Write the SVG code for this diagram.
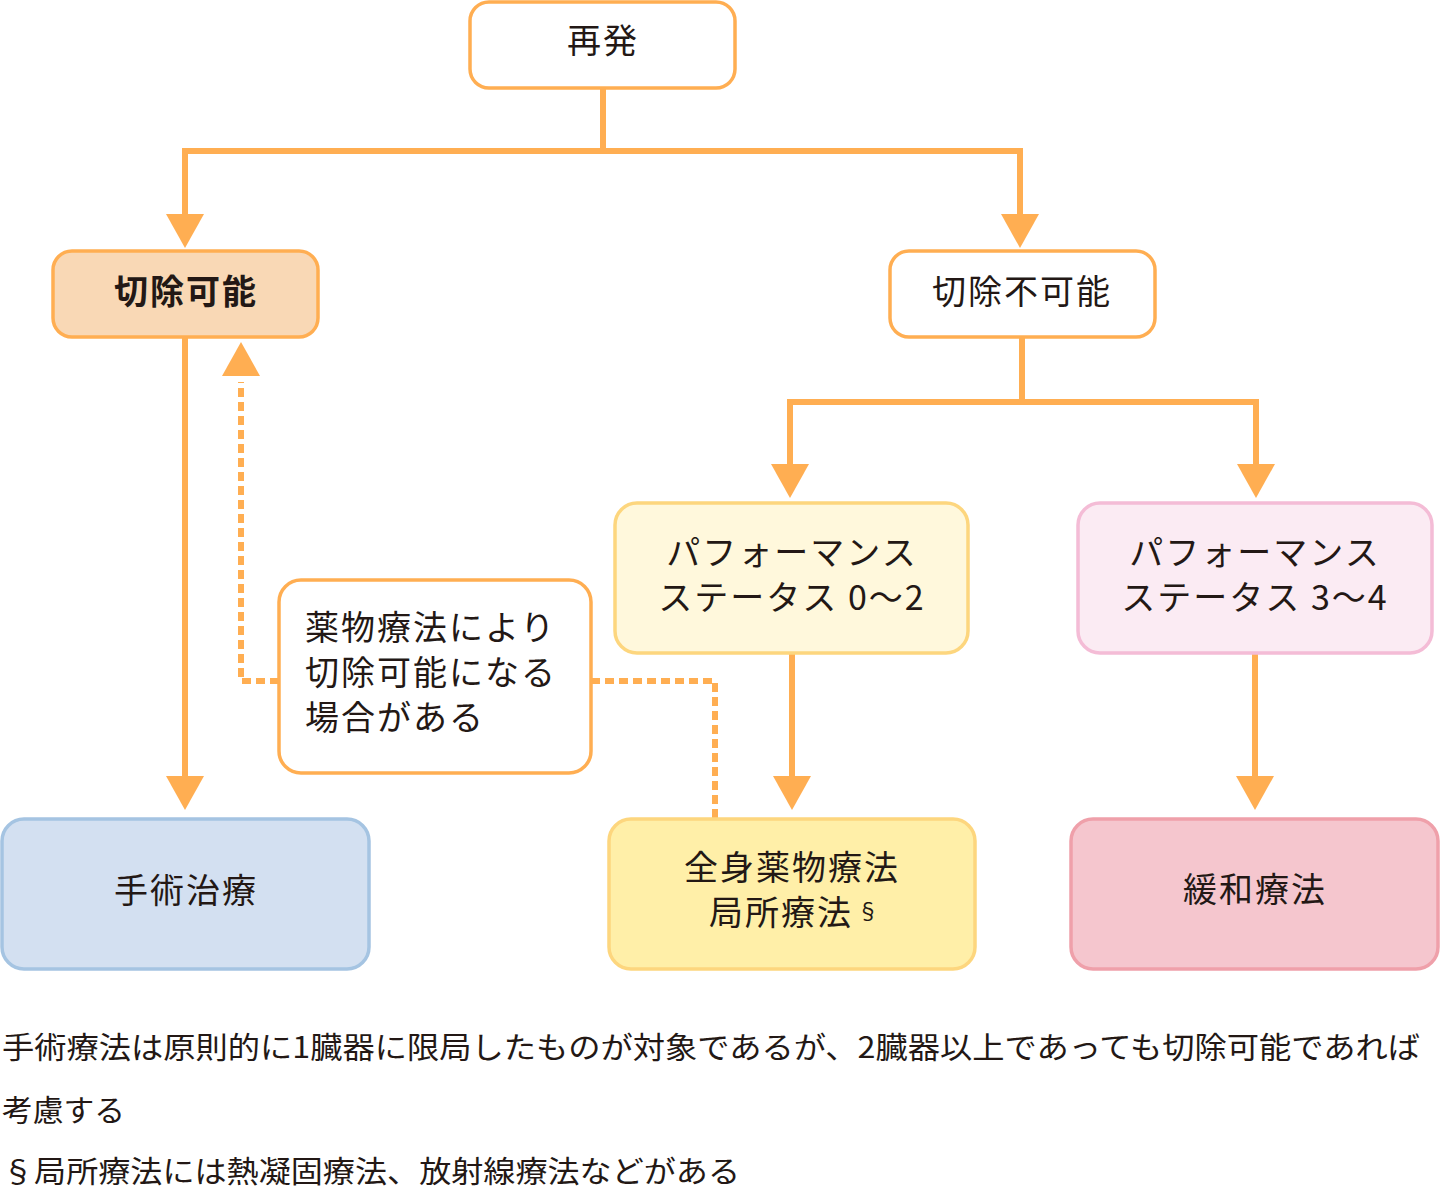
<svg xmlns="http://www.w3.org/2000/svg" width="1440" height="1190" viewBox="0 0 1440 1190">
<defs>
<style>
.t{font-family:"Noto Sans CJK JP","Noto Sans",sans-serif;fill:#231815;font-size:34px;letter-spacing:2px}
.c{text-anchor:middle}
.b{font-weight:bold}
.f{font-family:"Noto Sans CJK JP","Noto Sans",sans-serif;fill:#231815;font-size:30px}
.box{stroke-width:3.5}
.conn{fill:none;stroke:#FFAE52;stroke-width:6;stroke-linejoin:miter}
.dash{stroke-dasharray:9 5}
</style>
<marker id="arr" markerUnits="userSpaceOnUse" viewBox="0 0 34 38" markerWidth="34" markerHeight="38" refX="28" refY="19" orient="auto">
<path d="M0,0 L34,19 L0,38 Z" fill="#FFAE52"/>
</marker>
</defs>
<rect width="1440" height="1190" fill="#FFFFFF"/>

<g id="connectors">
<path class="conn" d="M603,88 V151"/>
<path class="conn" d="M603,151 H185 V242" marker-end="url(#arr)"/>
<path class="conn" d="M603,151 H1020 V242" marker-end="url(#arr)"/>
<path class="conn" d="M1022,337 V402"/>
<path class="conn" d="M1022,402 H790 V492" marker-end="url(#arr)"/>
<path class="conn" d="M1022,402 H1256 V492" marker-end="url(#arr)"/>
<path class="conn" d="M185,337 V804" marker-end="url(#arr)"/>
<path class="conn" d="M792,653 V804" marker-end="url(#arr)"/>
<path class="conn" d="M1255,653 V804" marker-end="url(#arr)"/>
<path class="conn dash" d="M279,681 H241 V382"/>
<polygon points="241,342 222,376 260,376" fill="#FFAE52"/>
<path class="conn dash" d="M591,681 H715 V819"/>
</g>

<g id="n-saihatsu">
<rect class="box" x="470" y="2" width="265" height="86" rx="19" fill="#FFFFFF" stroke="#FFAE52"/>
<text class="t c" x="603" y="53">再発</text>
</g>

<g id="n-resectable">
<rect class="box" x="53" y="251" width="265" height="86" rx="19" fill="#F9D8B5" stroke="#FFAE52"/>
<text class="t c b" x="186" y="304">切除可能</text>
</g>

<g id="n-unresectable">
<rect class="box" x="890" y="251" width="265" height="86" rx="19" fill="#FFFFFF" stroke="#FFAE52"/>
<text class="t c" x="1022" y="304">切除不可能</text>
</g>

<g id="n-ps02">
<rect class="box" x="615" y="503" width="353" height="150" rx="22" fill="#FFF8DC" stroke="#FDD67E"/>
<text class="t c" x="792" y="565">パフォーマンス</text>
<text class="t c" x="792" y="610">ステータス 0〜2</text>
</g>

<g id="n-ps34">
<rect class="box" x="1078" y="503" width="354" height="150" rx="22" fill="#FBEBF3" stroke="#F4BCD6"/>
<text class="t c" x="1255" y="565">パフォーマンス</text>
<text class="t c" x="1255" y="610">ステータス 3〜4</text>
</g>

<g id="n-note">
<rect class="box" x="279" y="580" width="312" height="193" rx="22" fill="#FFFFFF" stroke="#FFAE52"/>
<text class="t" x="305" y="640">薬物療法により</text>
<text class="t" x="305" y="685">切除可能になる</text>
<text class="t" x="305" y="730">場合がある</text>
</g>

<g id="n-surgery">
<rect class="box" x="2" y="819" width="367" height="150" rx="22" fill="#D3E0F1" stroke="#A5C4E2"/>
<text class="t c" x="186" y="903">手術治療</text>
</g>

<g id="n-systemic">
<rect class="box" x="609" y="819" width="366" height="150" rx="22" fill="#FFEFA8" stroke="#FDD67E"/>
<text class="t c" x="792" y="880">全身薬物療法</text>
<text class="t" x="709" y="925">局所療法<tspan font-size="22" dx="4" dy="-6">§</tspan></text>
</g>

<g id="n-palliative">
<rect class="box" x="1071" y="819" width="367" height="150" rx="22" fill="#F5C6CE" stroke="#EFA0AA"/>
<text class="t c" x="1255" y="902">緩和療法</text>
</g>

<g id="footnotes">
<text class="f" x="2" y="1058" textLength="1418" lengthAdjust="spacingAndGlyphs">手術療法は原則的に1臓器に限局したものが対象であるが、2臓器以上であっても切除可能であれば</text>
<text class="f" x="2" y="1121" textLength="123" lengthAdjust="spacingAndGlyphs">考慮する</text>
<text class="f" x="2" y="1182" textLength="738" lengthAdjust="spacingAndGlyphs">§局所療法には熱凝固療法、放射線療法などがある</text>
</g>
</svg>
